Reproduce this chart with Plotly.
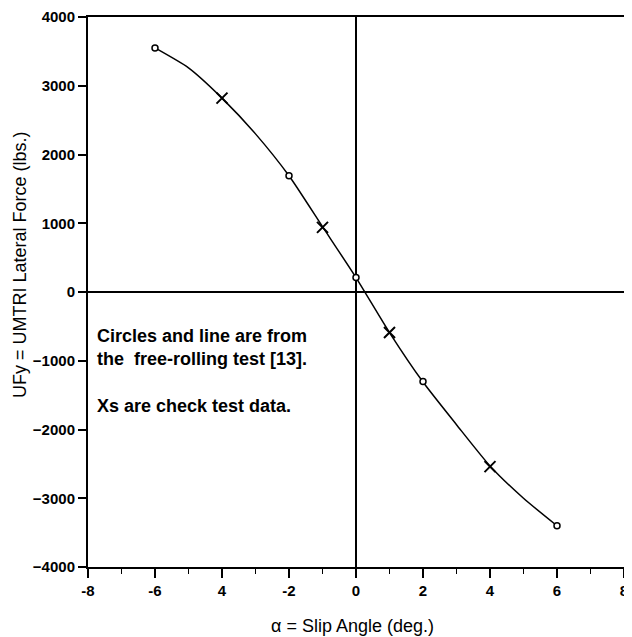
import plotly.graph_objects as go

# Free-rolling test: circles
circle_alpha = [-6, -2, 0, 2, 6]
circle_force = [3550, 1690, 210, -1300, -3400]

# Fitted line from the free-rolling test
curve_alpha = [-6, -5, -4, -3, -2, -1, 0, 1, 2, 3, 4, 5, 6]
curve_force = [3550, 3260, 2820, 2300, 1690, 950, 210, -590, -1310, -1930, -2530, -3000, -3400]

# Check test data: Xs
check_alpha = [-4, -1, 1, 4]
check_force = [2820, 940, -590, -2540]

x_tickvals = [-8, -6, -4, -2, 0, 2, 4, 6, 8]
x_ticktext = ["-8", "-6", "4", "-2", "0", "2", "4", "6", "8"]
y_tickvals = [-4000, -3000, -2000, -1000, 0, 1000, 2000, 3000, 4000]

FONT = "Liberation Sans, Arial, sans-serif"

# page body adds an 8px offset, so the figure is drawn slightly smaller
OFF = 8
W, H = 632 - OFF, 637 - OFF
L, R, T, B = 88 - OFF, 8, 17 - OFF, 70
pw, ph = W - L - R, H - T - B


def px(x):
    return (x - OFF - L) / pw


def py(y):
    return (H - (y - OFF) - B) / ph


fig = go.Figure()

fig.add_trace(go.Scatter(
    x=curve_alpha, y=curve_force,
    mode="lines",
    line=dict(color="black", width=1.5, shape="spline", smoothing=0.6),
    hoverinfo="skip",
))
fig.add_trace(go.Scatter(
    x=circle_alpha, y=circle_force,
    mode="markers",
    marker=dict(symbol="circle", size=6, color="white", line=dict(width=1.5, color="black")),
))
fig.add_trace(go.Scatter(
    x=check_alpha, y=check_force,
    mode="markers",
    marker=dict(symbol="x-thin", size=11, color="black", line=dict(width=2, color="black")),
))

fig.add_annotation(
    x=px(95), y=py(324), xref="paper", yref="paper",
    xanchor="left", yanchor="top", align="left", showarrow=False,
    text="Circles and line are from<br>the  free-rolling test [13].<br><br>Xs are check test data.",
    font=dict(family=FONT, size=18, color="black", weight="bold"),
)
fig.add_annotation(
    x=px(352), y=py(626), xref="paper", yref="paper",
    xanchor="center", yanchor="middle",
    showarrow=False, text="α = Slip Angle (deg.)",
    font=dict(family=FONT, size=18, color="black"),
)
fig.add_annotation(
    x=px(20), y=py(265), xref="paper", yref="paper",
    xanchor="center", yanchor="middle",
    showarrow=False, textangle=-90,
    text="UFy = UMTRI Lateral Force (lbs.)",
    font=dict(family=FONT, size=18, color="black"),
)

fig.update_layout(
    width=W, height=H,
    margin=dict(l=L, r=R, t=T, b=B),
    paper_bgcolor="white", plot_bgcolor="white",
    showlegend=False,
    font=dict(family=FONT, color="black"),
    xaxis=dict(
        range=[-8, 8], automargin=False,
        tickvals=x_tickvals, ticktext=x_ticktext,
        ticks="outside", ticklen=9, tickwidth=1.5, tickcolor="black",
        minor=dict(dtick=1, ticks="outside", ticklen=5, tickcolor="black", tickwidth=1),
        tickfont=dict(family=FONT, size=15, weight="bold"),
        showline=True, linecolor="black", linewidth=2, mirror=True,
        showgrid=False,
        zeroline=True, zerolinecolor="black", zerolinewidth=1.5,
    ),
    yaxis=dict(
        range=[-4000, 4000], automargin=False,
        tickvals=y_tickvals,
        ticks="outside", ticklen=8, tickwidth=1.5, tickcolor="black",
        tickfont=dict(family=FONT, size=15, weight="bold"),
        showline=True, linecolor="black", linewidth=2,
        showgrid=False,
        zeroline=True, zerolinecolor="black", zerolinewidth=1.5,
    ),
)

fig.write_html("out.html")
